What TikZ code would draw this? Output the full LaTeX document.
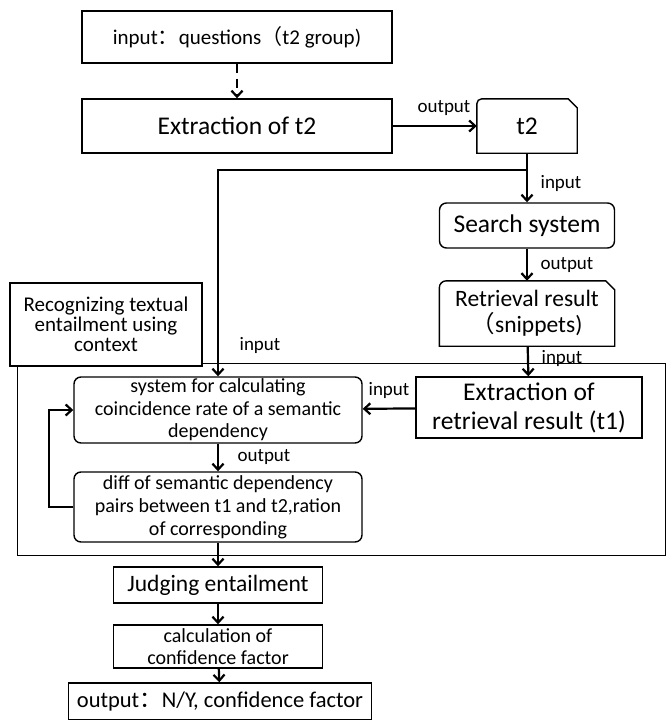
\documentclass[tikz,border=0pt]{standalone}
\usepackage{fontspec}
\setmainfont{Carlito}
\newfontfamily\cjk{Noto Sans CJK SC}
\usetikzlibrary{arrows.meta}

\newcommand{\fs}[2]{\fontsize{#1}{#2}\selectfont}

\begin{document}
\begin{tikzpicture}[x=1pt,y=-1pt,
    box/.style={draw,line width=1.4pt,align=center,inner sep=0pt},
    roundbox/.style={box,rounded corners=7pt},
    lbl/.style={inner sep=0pt,font=\fs{19}{21}},
    arr/.style={line width=2.2pt,-{Straight Barb[length=6pt,width=11pt]}},
    arrd/.style={arr,dash pattern=on 9pt off 6pt}]
		\useasboundingbox (0,0) rectangle (667,720);
		% frame of the context part
		\draw[line width=0.9pt] (17,363) rectangle (665,555);
		
		\node[box,minimum width=310,minimum height=52,font=\fs{21}{23}] (qin) at (237,37) {input{\cjk ：}questions{\cjk （}t2 group)};
		\node[box,minimum width=310,minimum height=54,font=\fs{25.5}{27}] (ext2) at (237,126) {Extraction of t2};
		\node[inner sep=0pt,minimum width=100,minimum height=54,font=\fs{25.5}{27}] (t2) at (527,126) {t2};
		\node[roundbox,minimum width=175,minimum height=45,font=\fs{25.5}{27}] (search) at (527,225.5) {Search system};
		\node[inner sep=0pt,align=center,minimum width=175,minimum height=65,font=\fs{23.5}{26}] (retr) at (527,313.5) {Retrieval result\\{\cjk （}snippets)};
		\node[box,minimum width=226,minimum height=61,font=\fs{25.5}{29}] (extr) at (529,407.5) {Extraction of\\retrieval result (t1)};
		\node[box,fill=white,minimum width=192,minimum height=83,font=\fs{21}{20}] (ctx) at (106,324.5) {Recognizing textual\\entailment using\\context};
		\node[roundbox,minimum width=288,minimum height=66,font=\fs{20}{22.5}] (sys) at (218,410) {system for calculating\\coincidence rate of a semantic\\dependency};
		\node[roundbox,minimum width=288,minimum height=70,font=\fs{20}{23}] (diff) at (218,507) {diff of semantic dependency\\pairs between t1 and t2,ration\\of corresponding};
		\node[box,minimum width=209,minimum height=36,font=\fs{23.5}{25}] (judge) at (218,585) {Judging entailment};
		\node[box,minimum width=209,minimum height=43,font=\fs{20}{21.5}] (calc) at (218,646.5) {calculation of\\confidence factor};
		\node[box,minimum width=303,minimum height=37,font=\fs{22.5}{24}] (out) at (220,701.5) {output{\cjk ：}N/Y, confidence factor};
		
		% snipped boxes
		\draw[line width=1.4pt] (t2.south west) -- ([yshift=-5pt]t2.north west) to[out=90,in=180] ([xshift=5pt]t2.north west) -- ([xshift=-9pt]t2.north east) -- ([yshift=-9pt]t2.north east) -- (t2.south east) -- cycle;
		\draw[line width=1.4pt] (retr.south west) -- ([yshift=-7pt]retr.north west) to[out=90,in=180] ([xshift=7pt]retr.north west) -- ([xshift=-9pt]retr.north east) -- ([yshift=-9pt]retr.north east) -- (retr.south east) -- cycle;
		
		\node[lbl] (lout1) at (444,108) {output};
		\node[lbl] (lin1) at (561,183) {input};
		\node[lbl] (lout2) at (567,265) {output};
		\node[lbl] (lin2) at (562,358) {input};
		\node[lbl] (lin3) at (260,345) {input};
		\node[lbl] (lin4) at (389,390) {input};
		\node[lbl] (lout3) at (264,457) {output};
		
		\coordinate (jn) at (527,170);
		\coordinate (bend) at (218,170);
		\coordinate (loop) at (49,507);
		
		\draw[arrd] (qin) -- (ext2);
		\draw[arr] (ext2) -- (t2);
		\draw[arr] (t2) -- (search);
		\draw[arr] (jn) -- (bend) -- (sys);
		\draw[arr] (search) -- (retr);
		\draw[arr] (retr) -- (extr);
		\draw[arr] (extr) -- (sys);
		\draw[arr] (sys) -- (diff);
		\draw[arr] (diff.west) -- (loop) |- (sys.west);
		\draw[arr] (diff) -- (judge);
		\draw[arr] (judge) -- (calc);
		\draw[arr] (calc) -- (out);
		\end{tikzpicture}
\end{document}
